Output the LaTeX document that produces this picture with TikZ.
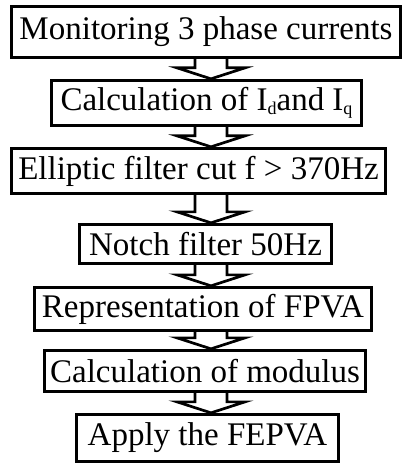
\documentclass[tikz,border=0pt]{standalone}
\usepackage{fontspec}
\setmainfont{Liberation Serif}
\usetikzlibrary{calc, backgrounds}

\newcommand{\lowidx}[1]{\raisebox{-4pt}{\fontsize{18}{18}\selectfont #1}}
\newcommand{\blockarrow}[2]{%
  \draw[flowarrow] let \p1=(#1.south -| axis), \p2=(#2.north -| axis) in
    (\x1-16pt,\y1) -- (\x1-16pt,\y2+11pt) -- (\x1-34pt,\y2+11pt) -- (\x2,\y2)
    -- (\x1+34pt,\y2+11pt) -- (\x1+16pt,\y2+11pt) -- (\x1+16pt,\y1);}

\begin{document}
\begin{tikzpicture}[
    x=1pt, y=-1pt,
    stepbox/.style={rectangle, draw=black, line width=3.3pt, fill=white, inner sep=2pt, font=\fontsize{33}{39}\selectfont},
    flowarrow/.style={draw=black, line width=2.7pt, fill=white, line join=miter}
]
\useasboundingbox (0,0) rectangle (404,465);
\coordinate (axis) at (211,0);

\node[stepbox, minimum width=389pt, minimum height=51pt] (monitor) at (206,32) {Monitoring 3 phase currents};
\node[stepbox, minimum width=310pt, minimum height=45pt] (idq) at (206.5,103) {Calculation of I\lowidx{d}and I\lowidx{q}};
\node[stepbox, minimum width=374pt, minimum height=45pt] (elliptic) at (198.5,171) {Elliptic filter cut f > 370Hz};
\node[stepbox, minimum width=252pt, minimum height=39pt] (notch) at (205.5,244) {Notch filter 50Hz};
\node[stepbox, minimum width=337pt, minimum height=43pt] (fpva) at (203,309) {Representation of FPVA};
\node[stepbox, minimum width=321pt, minimum height=41pt] (modulus) at (205,371) {Calculation of modulus};
\node[stepbox, minimum width=262pt, minimum height=47pt] (fepva) at (207.5,438) {Apply the FEPVA};

\begin{scope}[on background layer]
\blockarrow{monitor}{idq}
\blockarrow{idq}{elliptic}
\blockarrow{elliptic}{notch}
\blockarrow{notch}{fpva}
\blockarrow{fpva}{modulus}
\blockarrow{modulus}{fepva}
\end{scope}

\end{tikzpicture}
\end{document}
